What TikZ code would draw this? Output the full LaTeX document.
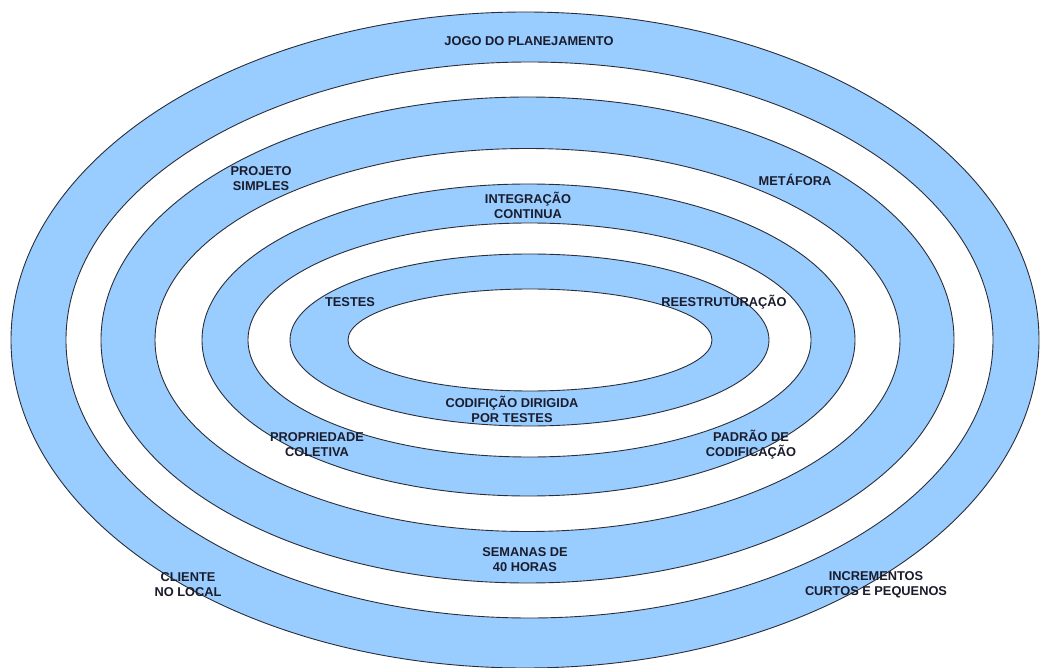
\documentclass[tikz,border=0pt]{standalone}
\usepackage{fontspec}
\setmainfont{Liberation Sans}
\begin{document}
\definecolor{ringblue}{HTML}{99CCFF}
\definecolor{ringline}{HTML}{2A2E3A}
\definecolor{labelink}{HTML}{1A1C2C}
\begin{tikzpicture}[x=1pt,y=-1pt,
  ring/.style={draw=ringline,line width=0.9pt},
  bluering/.style={ring,fill=ringblue},
  whitering/.style={ring,fill=white},
  lbl/.style={font=\fontsize{12.8}{15}\selectfont\bfseries,text=labelink,align=center,inner sep=0pt}]
\useasboundingbox[fill=white] (0,0) rectangle (1041,668);
% concentric practice rings, outermost first
\draw[bluering]  (525,340) ellipse [x radius=514,  y radius=328];
\draw[whitering] (529.5,340) ellipse [x radius=463.5, y radius=278];
\draw[bluering]  (527.5,340) ellipse [x radius=426.5, y radius=243];
\draw[whitering] (527.5,340) ellipse [x radius=372.5, y radius=191.5];
\draw[bluering]  (528.5,340) ellipse [x radius=326.5, y radius=156];
\draw[whitering] (529.5,340) ellipse [x radius=281.5, y radius=117];
\draw[bluering]  (529.5,340) ellipse [x radius=239.5, y radius=86];
\draw[whitering] (530,340) ellipse [x radius=182,   y radius=51];
% practice labels
\node[lbl] (jogo) at (529,41) {JOGO DO PLANEJAMENTO};
\node[lbl] (projeto) at (261,179) {PROJETO\\SIMPLES};
\node[lbl] (metafora) at (795,180) {METÁFORA};
\node[lbl] (integracao) at (528,205) {INTEGRAÇÃO\\CONTINUA};
\node[lbl] (testes) at (350,302) {TESTES};
\node[lbl] (reestr) at (724,302) {REESTRUTURAÇÃO};
\node[lbl] (codif) at (512,409) {CODIFIÇÃO DIRIGIDA\\POR TESTES};
\node[lbl] (propriedade) at (317,445) {PROPRIEDADE\\COLETIVA};
\node[lbl] (padrao) at (751,445) {PADRÃO DE\\CODIFICAÇÃO};
\node[lbl] (semanas) at (525,560) {SEMANAS DE\\40 HORAS};
\node[lbl] (cliente) at (188,585) {CLIENTE\\NO LOCAL};
\node[lbl] (incrementos) at (876,585) {INCREMENTOS\\CURTOS E PEQUENOS};
\end{tikzpicture}
\end{document}
